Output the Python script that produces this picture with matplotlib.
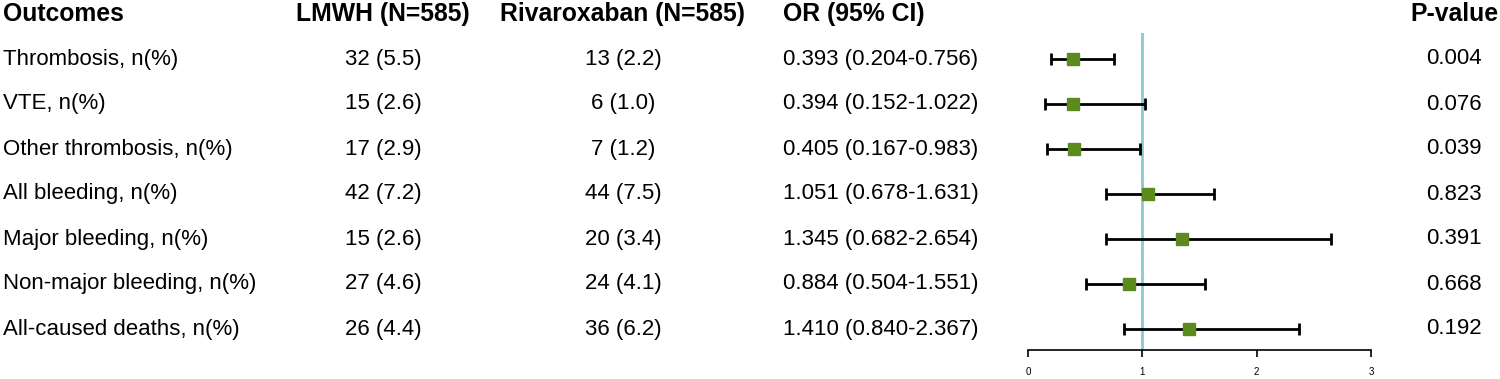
import matplotlib
matplotlib.use("Agg")
import matplotlib.pyplot as plt
import matplotlib.transforms as mtransforms

plt.rcParams['font.family'] = ['Liberation Sans', 'DejaVu Sans']

outcomes = ["Thrombosis, n(%)", "VTE, n(%)", "Other thrombosis, n(%)", "All bleeding, n(%)",
            "Major bleeding, n(%)", "Non-major bleeding, n(%)", "All-caused deaths, n(%)"]
lmwh = ["32 (5.5)", "15 (2.6)", "17 (2.9)", "42 (7.2)", "15 (2.6)", "27 (4.6)", "26 (4.4)"]
riva = ["13 (2.2)", "6 (1.0)", "7 (1.2)", "44 (7.5)", "20 (3.4)", "24 (4.1)", "36 (6.2)"]
odds = [0.393, 0.394, 0.405, 1.051, 1.345, 0.884, 1.410]
lower = [0.204, 0.152, 0.167, 0.678, 0.682, 0.504, 0.840]
upper = [0.756, 1.022, 0.983, 1.631, 2.654, 1.551, 2.367]
pvals = ["0.004", "0.076", "0.039", "0.823", "0.391", "0.668", "0.192"]

W, H = 1500, 379
fig = plt.figure(figsize=(15, 3.79), dpi=100)

# forest plot axes: x 0..3 spans px 1028..1371, rows at px 59 + 45*i
ax = fig.add_axes([1028 / W, (H - 350) / H, 343 / W, (350 - 33) / H])
ax.set_xlim(0, 3)
ax.set_ylim((350 - 59) / 45, (33 - 59) / 45)

rows = list(range(len(outcomes)))
ax.axvline(1, color='#8DC9D3', lw=2, zorder=1)
xerr = [[o - l for o, l in zip(odds, lower)], [u - o for o, u in zip(odds, upper)]]
ax.errorbar(odds, rows, xerr=xerr, fmt='none', ecolor='black', elinewidth=2,
            capsize=4.5, capthick=2, zorder=2)
ax.plot(odds, rows, 's', color='#5B8B1F', markersize=8, zorder=3)

for s in ['top', 'right', 'left']:
    ax.spines[s].set_visible(False)
ax.spines['bottom'].set_linewidth(1.2)
ax.set_yticks([])
ax.set_xticks([0, 1, 2, 3])
ax.tick_params(axis='x', length=5, width=1.2, labelsize=7, pad=7)

tr = mtransforms.blended_transform_factory(fig.transFigure, ax.transData)
fs = 16
hfs = 17.8
hy = (14 - 59) / 45
fig.text(3 / W, hy, "Outcomes", transform=tr, fontsize=hfs, fontweight='bold', va='center', ha='left')
fig.text(383 / W, hy, "LMWH (N=585)", transform=tr, fontsize=hfs, fontweight='bold', va='center', ha='center')
fig.text(623 / W, hy, "Rivaroxaban (N=585)", transform=tr, fontsize=hfs, fontweight='bold', va='center', ha='center')
fig.text(783 / W, hy, "OR (95% CI)", transform=tr, fontsize=hfs, fontweight='bold', va='center', ha='left')
fig.text(1454 / W, hy, "P-value", transform=tr, fontsize=hfs, fontweight='bold', va='center', ha='center')

for i in rows:
    fig.text(3 / W, i, outcomes[i], transform=tr, fontsize=fs, va='center', ha='left')
    fig.text(383 / W, i, lmwh[i], transform=tr, fontsize=fs, va='center', ha='center')
    fig.text(623 / W, i, riva[i], transform=tr, fontsize=fs, va='center', ha='center')
    fig.text(783 / W, i, "%.3f (%.3f-%.3f)" % (odds[i], lower[i], upper[i]), transform=tr,
             fontsize=fs, va='center', ha='left')
    fig.text(1454 / W, i, pvals[i], transform=tr, fontsize=fs, va='center', ha='center')

fig.savefig("out.png", dpi=100)
